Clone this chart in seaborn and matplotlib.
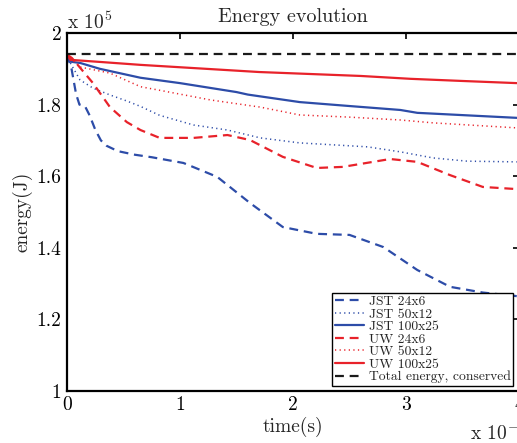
import matplotlib
matplotlib.use("Agg")
import matplotlib.pyplot as plt
import seaborn as sns
import pandas as pd
import numpy as np

# time in units of 1e-5 s, energy in units of 1e5 J
jst24_t = [0.0, 0.04, 0.08, 0.11, 0.16, 0.20, 0.25, 0.30, 0.35, 0.45, 0.60, 0.75, 1.03, 1.33, 1.62, 1.91, 2.21, 2.50, 2.80, 3.10, 3.39, 3.68, 3.98]
jst24_e = [1.94, 1.90, 1.83, 1.80, 1.795, 1.77, 1.73, 1.70, 1.685, 1.67, 1.66, 1.653, 1.637, 1.598, 1.525, 1.458, 1.439, 1.436, 1.402, 1.338, 1.291, 1.275, 1.265]

jst50_t = [0.0, 0.03, 0.115, 0.23, 0.38, 0.53, 0.65, 0.82, 1.12, 1.42, 1.71, 2.06, 2.66, 2.95, 3.24, 3.54, 3.98]
jst50_e = [1.94, 1.916, 1.869, 1.846, 1.827, 1.81, 1.795, 1.77, 1.743, 1.729, 1.707, 1.693, 1.682, 1.668, 1.651, 1.642, 1.640]

jst100_t = [0.0, 0.03, 0.12, 0.29, 0.65, 1.0, 1.5, 1.6, 2.06, 2.5, 2.95, 3.1, 3.98]
jst100_e = [1.94, 1.92, 1.916, 1.90, 1.875, 1.86, 1.835, 1.828, 1.807, 1.796, 1.785, 1.777, 1.763]

uw24_t = [0.0, 0.044, 0.23, 0.38, 0.53, 0.65, 0.82, 1.12, 1.42, 1.62, 1.91, 2.21, 2.44, 2.86, 3.10, 3.39, 3.68, 3.98]
uw24_e = [1.94, 1.93, 1.86, 1.793, 1.751, 1.729, 1.707, 1.707, 1.715, 1.701, 1.654, 1.623, 1.626, 1.648, 1.640, 1.603, 1.570, 1.564]

uw50_t = [0.0, 0.115, 0.38, 0.65, 0.82, 1.27, 1.71, 2.06, 2.50, 2.95, 3.24, 3.98]
uw50_e = [1.94, 1.905, 1.888, 1.85, 1.84, 1.813, 1.793, 1.771, 1.765, 1.757, 1.749, 1.735]

uw100_t = [0.0, 0.03, 0.30, 0.65, 1.70, 2.60, 3.04, 3.50, 3.98]
uw100_e = [1.94, 1.925, 1.919, 1.911, 1.891, 1.880, 1.872, 1.866, 1.860]

total_t = [0.0, 4.0]
total_e = [1.942, 1.942]

x_ticks = [0, 1, 2, 3, 4]
x_ticklabels = ["0", "1", "2", "3", "4"]
y_ticks = [1.0, 1.2, 1.4, 1.6, 1.8, 2.0]
y_ticklabels = ["1", "1.2", "1.4", "1.6", "1.8", "2"]

sns.set_style("white")
plt.rcParams["font.family"] = ["cmr10", "DejaVu Serif"]
plt.rcParams["mathtext.fontset"] = "cm"
plt.rcParams["axes.unicode_minus"] = False

W, H = 517, 443
fig = plt.figure(figsize=(W / 100, H / 100), dpi=100)
ax = fig.add_axes([67 / W, 1 - 391 / H, 452 / W, 358 / H])

blue = "#2d4ca8"
red = "#e8222a"

series = [
    ("JST 24x6", jst24_t, jst24_e, blue, (0, (4.0, 2.6)), 1.6),
    ("JST 50x12", jst50_t, jst50_e, blue, (0, (0.8, 2.2)), 1.1),
    ("JST 100x25", jst100_t, jst100_e, blue, "-", 1.6),
    ("UW 24x6", uw24_t, uw24_e, red, (0, (4.0, 2.6)), 1.6),
    ("UW 50x12", uw50_t, uw50_e, red, (0, (0.8, 2.2)), 1.1),
    ("UW 100x25", uw100_t, uw100_e, red, "-", 1.6),
    ("Total energy, conserved", total_t, total_e, "#1a1a1a", (0, (4.0, 2.6)), 1.6),
]

for name, t, e, c, ls, lw in series:
    df = pd.DataFrame({"t": t, "e": e})
    sns.lineplot(data=df, x="t", y="e", ax=ax, color=c, linestyle=ls, linewidth=lw,
                 label=name, estimator=None, sort=False)

ax.set_xlim(0, 4)
ax.set_ylim(1, 2)
ax.set_xticks(x_ticks)
ax.set_xticklabels(x_ticklabels)
ax.set_yticks(y_ticks)
ax.set_yticklabels(y_ticklabels)
ax.tick_params(direction="in", length=4, width=1.2, top=True, right=True,
               labelsize=14, pad=4, colors="black")
for s in ax.spines.values():
    s.set_linewidth(1.6)
    s.set_color("black")

ax.set_xlabel("time(s)", fontsize=14, labelpad=2)
ax.set_ylabel("energy(J)", fontsize=14, labelpad=3)
ax.set_title("Energy evolution", fontsize=14.5, pad=8)

leg = ax.legend(loc="lower right", bbox_to_anchor=(0.987, 0.014), borderaxespad=0,
                fontsize=9.8, frameon=True, fancybox=False, framealpha=1,
                edgecolor="black", handlelength=2.1, handletextpad=0.35,
                labelspacing=0.0, borderpad=0.2)
leg.get_frame().set_linewidth(1.0)

fig.text(67 / W, 1 - 33 / H, r"x $10^{5}$", fontsize=14, ha="left", va="bottom")
fig.text(470 / W, 1 - 440 / H, r"x $10^{-5}$", fontsize=14, ha="left", va="baseline")

fig.savefig("out.png", dpi=100)
